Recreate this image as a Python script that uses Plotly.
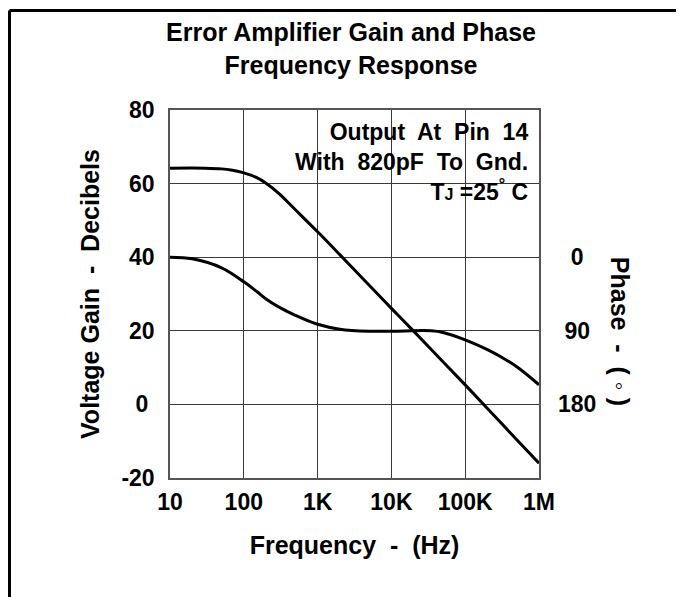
import plotly.graph_objects as go

# ---- data ----
gain_freq = [10, 30, 50, 70, 100, 150, 200, 300, 500, 1000, 2000, 5000, 10000,
             20000, 50000, 100000, 200000, 500000, 1000000]
gain_db = [64.2, 64.2, 64.0, 63.6, 62.9, 61.6, 60.1, 57.3, 52.9, 46.9, 40.7,
           32.4, 26.1, 19.9, 11.6, 5.3, -1.1, -9.6, -16.0]

phase_freq = [10, 20, 50, 100, 150, 200, 300, 500, 1000, 2000, 5000, 10000,
              35000, 50000, 100000, 200000, 300000, 500000, 1000000]
phase_deg = [0, 2, 13, 30, 42, 51, 61, 71, 82, 88, 90.5, 90.5, 90, 92, 101,
             113, 121.5, 134, 156]

x_tickvals = [10, 100, 1000, 10000, 100000, 1000000]
x_ticktext = ["10", "100", "1K", "10K", "100K", "1M"]
y_tickvals = [-20, 0, 20, 40, 60, 80]
y_ticktext = ["-20", "0\u00a0", "20", "40", "60", "80"]
p_tickvals = [0, 90, 180]
p_ticktext = ["\u00a0\u00a00", "\u00a090", "180"]

FONT = "Liberation Sans, Arial, sans-serif"
OFF = 8                      # page offset of the figure in the browser
W, H = 684 - OFF, 597 - OFF
L, R, T, B = 170 - OFF, 145, 110 - OFF, 119
pw, ph = W - L - R, H - T - B

def px_x(x):                 # page pixel -> paper
    return (x - OFF - L) / pw

def px_y(y):
    return (H - B - (y - OFF)) / ph

fig = go.Figure()
fig.add_trace(go.Scatter(x=gain_freq, y=gain_db, mode="lines",
                         line=dict(color="black", width=3, shape="spline", smoothing=1.0),
                         showlegend=False, hoverinfo="skip"))
fig.add_trace(go.Scatter(x=phase_freq, y=phase_deg, mode="lines", yaxis="y2",
                         line=dict(color="black", width=3, shape="spline", smoothing=1.0),
                         showlegend=False, hoverinfo="skip"))

grid = "#3a3a3a"
tickfont = dict(family=FONT, size=23, color="black", weight="bold")
fig.update_layout(
    width=W, height=H,
    margin=dict(l=L, r=R, t=T, b=B, autoexpand=False),
    paper_bgcolor="white", plot_bgcolor="white",
    font=dict(family=FONT, color="black", size=22),
    xaxis=dict(type="log", range=[1, 6], tickvals=x_tickvals, ticktext=x_ticktext,
               showgrid=True, gridcolor=grid, gridwidth=1, tickfont=tickfont,
               showline=True, linecolor="#555", linewidth=1.5, mirror=True,
               ticks="", ticklabelstandoff=3, zeroline=False,
               title=dict(text="<b>Frequency  -  (Hz)</b>", standoff=22,
                          font=dict(size=25))),
    yaxis=dict(range=[-20, 80], tickvals=y_tickvals, ticktext=y_ticktext,
               showgrid=True, gridcolor=grid, gridwidth=1, zeroline=False,
               showline=True, linecolor="#555", linewidth=1.5, mirror=True,
               ticks="", ticklabelstandoff=9, tickfont=tickfont,
               title=dict(text="<b>Voltage Gain  -  Decibels</b>", standoff=15,
                          font=dict(size=25))),
    yaxis2=dict(overlaying="y", side="right", range=[270, -180],
                tickvals=p_tickvals, ticktext=p_ticktext, showgrid=False,
                zeroline=False, showline=False, ticks="", ticklabelstandoff=18,
                tickfont=tickfont),
)

# chart title
fig.add_annotation(xref="paper", yref="paper", x=px_x(351), y=px_y(16),
                   xanchor="center", yanchor="top", align="center", showarrow=False,
                   text="<b>Error Amplifier Gain and Phase<br>Frequency Response</b>",
                   font=dict(size=25, family=FONT))

# white panel behind the note (hides grid there)
fig.add_shape(type="rect", xref="paper", yref="paper", layer="between",
              x0=px_x(420), x1=px_x(537), y0=px_y(208), y1=px_y(114),
              fillcolor="white", line=dict(width=0))

fig.add_annotation(xref="paper", yref="paper", x=px_x(530), y=px_y(117),
                   xanchor="right", yanchor="top", align="right", showarrow=False,
                   text="<b>Output  At  Pin  14<br>With  820pF  To  Gnd.<br>"
                        "T<span style='font-size:16px'>J</span> =25<sup>\u00b0</sup> C</b>",
                   font=dict(size=23, family=FONT))

# right axis title
fig.add_annotation(xref="paper", yref="y2", x=px_x(620), y=90,
                   xanchor="center", yanchor="middle", showarrow=False,
                   textangle=90, text="<b>Phase  -  ( \u25e6 )</b>",
                   font=dict(size=25, family=FONT))

# frame (top and left edges)
fig.add_shape(type="line", xref="paper", yref="paper", x0=px_x(9.5), x1=px_x(700),
              y0=px_y(10.5), y1=px_y(10.5), line=dict(color="black", width=3))
fig.add_shape(type="line", xref="paper", yref="paper", x0=px_x(9.5), x1=px_x(9.5),
              y0=px_y(10.5), y1=px_y(620), line=dict(color="black", width=3))

fig.write_html("out.html")
